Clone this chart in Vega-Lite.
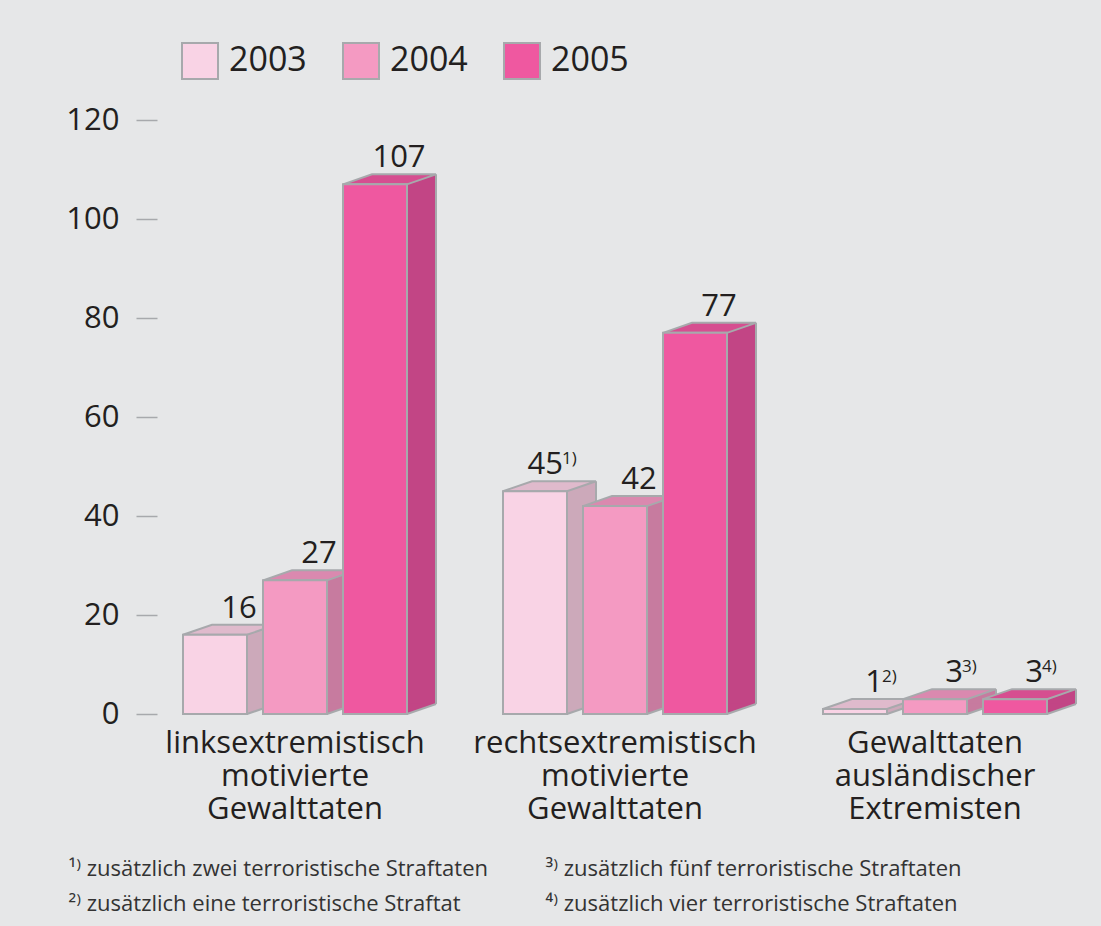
{
  "$schema": "https://vega.github.io/schema/vega-lite/v6.json",
  "width": 916,
  "height": 594,
  "autosize": {"type": "none"},
  "padding": {"left": 157, "top": 120, "right": 28, "bottom": 212},
  "background": "#e6e7e8",
  "config": {"view": {"stroke": null}, "font": "Open Sans"},
  "data": {"values": [
    {"key": "L2003", "year": "2003", "value": 16},
    {"key": "L2004", "year": "2004", "value": 27},
    {"key": "L2005", "year": "2005", "value": 107},
    {"key": "R2003", "year": "2003", "value": 45, "note": "1)"},
    {"key": "R2004", "year": "2004", "value": 42},
    {"key": "R2005", "year": "2005", "value": 77},
    {"key": "A2003", "year": "2003", "value": 1, "note": "2)"},
    {"key": "A2004", "year": "2004", "value": 3, "note": "3)"},
    {"key": "A2005", "year": "2005", "value": 3, "note": "4)"}
  ]},
  "encoding": {
    "x": {
      "field": "key", "type": "nominal",
      "scale": {"domain": ["L2003","L2004","L2005","gap1","R2003","R2004","R2005","gap2","A2003","A2004","A2005"], "paddingInner": 0.2, "paddingOuter": 0.325},
      "axis": {
        "values": ["L2004", "R2004", "A2004"],
        "labelExpr": "datum.value == 'L2004' ? ['linksextremistisch','motivierte','Gewalttaten'] : datum.value == 'R2004' ? ['rechtsextremistisch','motivierte','Gewalttaten'] : ['Gewalttaten','ausländischer','Extremisten']",
        "domain": false, "ticks": false, "labelAngle": 0,
        "labelFontSize": 31, "labelLineHeight": 33, "labelColor": "#231f20",
        "labelPadding": 14, "labelLimit": 0, "labelOverlap": false, "labelBaseline": "top", "labelFlush": false,
        "title": ["¹⁾ zusätzlich zwei terroristische Straftaten", "²⁾ zusätzlich eine terroristische Straftat"],
        "titleAngle": 0, "titleAlign": "left", "titleBaseline": "top", "titleX": -89, "titleY": 144,
        "titleFontSize": 22, "titleFontWeight": "normal", "titleColor": "#333333", "titleLineHeight": 35, "titleFont": "Open Sans", "titleLimit": 0
      }
    }
  },
  "layer": [
    {
      "mark": {"type": "bar", "width": 29, "xOffset": 46.5, "yOffset": -10, "y2Offset": -10},
      "encoding": {
        "y": {"field": "value", "type": "quantitative", "scale": {"domain": [0, 120]},
          "axis": {
            "values": [0, 20, 40, 60, 80, 100, 120], "grid": false, "domain": false,
            "tickSize": 21, "tickColor": "#a7a9ac", "tickWidth": 1.5, "labelPadding": 17,
            "labelFontSize": 31, "labelColor": "#231f20",
            "title": ["³⁾ zusätzlich fünf terroristische Straftaten", "⁴⁾ zusätzlich vier terroristische Straftaten"],
            "titleAngle": 0, "titleAlign": "left", "titleBaseline": "top", "titleX": 388, "titleY": 738,
            "titleFontSize": 22, "titleFontWeight": "normal", "titleColor": "#333333", "titleLineHeight": 35, "titleFont": "Open Sans", "titleLimit": 0
          }},
        "fill": {"field": "year", "type": "nominal", "scale": {"domain": ["2003","2004","2005"], "range": ["#cca9ba", "#c77b9f", "#c24585"]}, "legend": null}
      }
    },
    {
      "mark": {"type": "point", "shape": "M32,-10.6L32,0L61,-10L61,-10.6Z", "size": 4, "filled": true, "opacity": 1, "strokeWidth": 0},
      "encoding": {
        "y": {"datum": 0, "type": "quantitative"},
        "fill": {"field": "year", "type": "nominal", "scale": {"domain": ["2003","2004","2005"], "range": ["#cca9ba", "#c77b9f", "#c24585"]}, "legend": null}
      }
    },
    {
      "mark": {"type": "rule", "xOffset": 61, "yOffset": -10, "y2Offset": -10, "color": "#a7a9ac", "strokeWidth": 2},
      "encoding": {
        "y": {"field": "value", "type": "quantitative"},
        "y2": {"datum": 0}
      }
    },
    {
      "mark": {"type": "point", "shape": "M32,0L61,-10", "size": 4, "filled": false, "fill": null, "stroke": "#a7a9ac", "strokeWidth": 2, "opacity": 1},
      "encoding": {
        "y": {"datum": 0, "type": "quantitative"}
      }
    },
    {
      "mark": {"type": "point", "shape": "M-32,0L32,0L61,-10L-3,-10Z", "size": 4, "filled": true, "opacity": 1, "stroke": "#a7a9ac", "strokeWidth": 2, "strokeJoin": "miter"},
      "encoding": {
        "y": {"field": "value", "type": "quantitative"},
        "fill": {"field": "year", "type": "nominal", "scale": {"domain": ["2003","2004","2005"], "range": ["#dfbacc", "#da89af", "#d64e90"]}, "legend": null}
      }
    },
    {
      "mark": {"type": "bar", "stroke": "#a7a9ac", "strokeWidth": 2},
      "encoding": {
        "y": {"field": "value", "type": "quantitative"},
        "fill": {"field": "year", "type": "nominal",
          "scale": {"domain": ["2003","2004","2005"], "range": ["#f9d3e5", "#f49ac2", "#ef58a0"]},
          "legend": {
            "title": null, "orient": "none", "direction": "horizontal", "legendX": 24, "legendY": -78,
            "symbolType": "square", "symbolSize": 1296, "symbolStrokeColor": "#a7a9ac", "symbolStrokeWidth": 2,
            "labelFontSize": 34, "labelColor": "#231f20", "labelOffset": 10, "columnPadding": 32, "padding": 0
          }}
      }
    },
    {
      "transform": [{"filter": "!isValid(datum.note)"}],
      "mark": {"type": "text", "dx": 24, "dy": -17, "baseline": "alphabetic", "align": "center", "fontSize": 31, "color": "#231f20"},
      "encoding": {
        "y": {"field": "value", "type": "quantitative"},
        "text": {"field": "value", "type": "quantitative"}
      }
    },
    {
      "transform": [{"filter": "isValid(datum.note)"}],
      "mark": {"type": "text", "dx": 28, "dy": -17, "baseline": "alphabetic", "align": "right", "fontSize": 31, "color": "#231f20"},
      "encoding": {
        "y": {"field": "value", "type": "quantitative"},
        "text": {"field": "value", "type": "quantitative"}
      }
    },
    {
      "transform": [{"filter": "isValid(datum.note)"}],
      "mark": {"type": "text", "dx": 27, "dy": -27, "baseline": "alphabetic", "align": "left", "fontSize": 17, "color": "#231f20"},
      "encoding": {
        "y": {"field": "value", "type": "quantitative"},
        "text": {"field": "note", "type": "nominal"}
      }
    }
  ],
  "resolve": {"scale": {"fill": "independent"}}
}
